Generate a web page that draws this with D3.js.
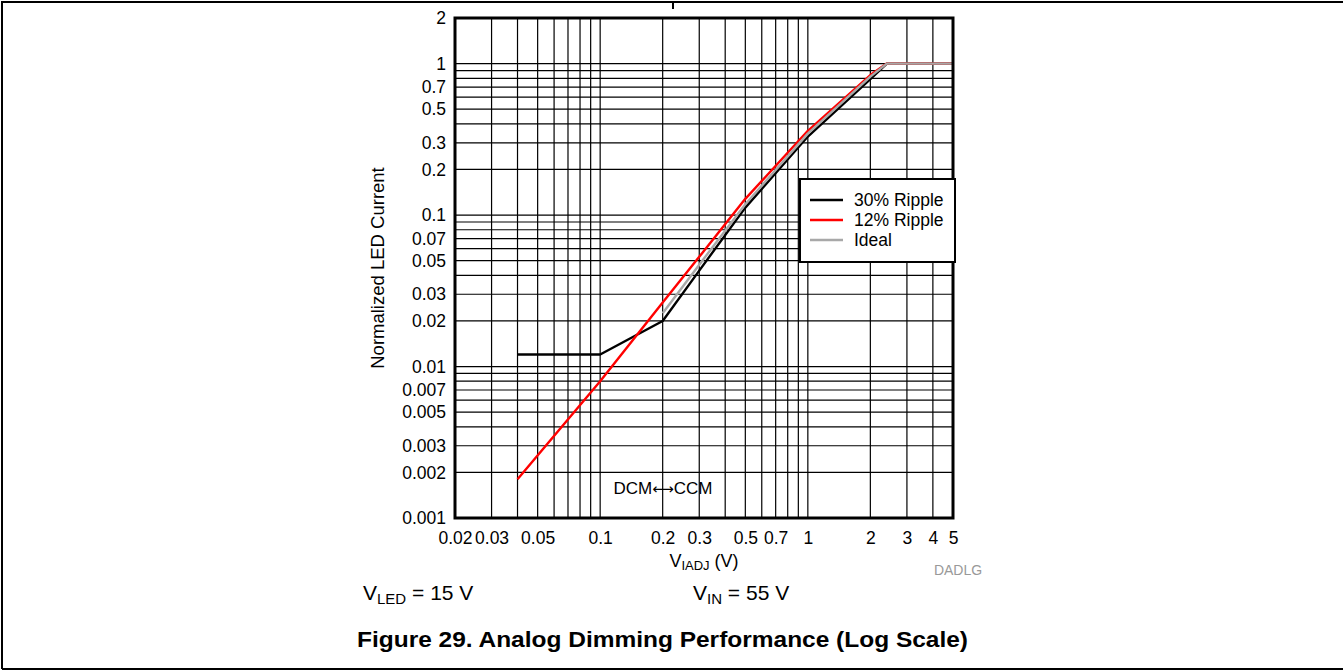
<!DOCTYPE html>
<html>
<head>
<meta charset="utf-8">
<script src="https://cdn.jsdelivr.net/npm/d3@7"></script>
<style>
  body { margin: 0; background: #fff; }
  svg { font-family: "Liberation Sans", Arial, sans-serif; }
</style>
</head>
<body>
<svg width="1343" height="670"></svg>
<script>
// data
var xTickLabels = [0.02, 0.03, 0.05, 0.1, 0.2, 0.3, 0.5, 0.7, 1, 2, 3, 4, 5];
var yTickLabels = [0.001, 0.002, 0.003, 0.005, 0.007, 0.01, 0.02, 0.03, 0.05, 0.07, 0.1, 0.2, 0.3, 0.5, 0.7, 1, 2];

var seriesNames = ["30% Ripple", "12% Ripple", "Ideal"];
var seriesColors = ["#000000", "#ff0000", "#a8a8a8"];

var ripple30 = [[0.04, 0.012], [0.1, 0.012], [0.2, 0.02], [0.3, 0.043], [0.5, 0.112], [1, 0.33], [2, 0.79], [2.4, 1], [5, 1]];
var ripple12 = [[0.04, 0.0018], [0.1, 0.008], [0.2, 0.0265], [0.3, 0.053], [0.5, 0.128], [1, 0.36], [2, 0.84], [2.4, 1], [5, 1]];
var ideal    = [[0.2, 0.0225], [0.3, 0.047], [0.5, 0.118], [1, 0.345], [2, 0.82], [2.4, 1], [5, 1]];

var svg = d3.select("svg");

// page frame
svg.append("path").attr("d", "M2,669V2H1343M673,2V9M2,669H1343")
  .attr("fill", "none").attr("stroke", "#000").attr("stroke-width", 2);

var x = d3.scaleLog().domain([0.02, 5]).range([455, 953]);
var y = d3.scaleLog().domain([0.001, 2]).range([518, 18]);

// grid
var g = svg.append("g");
g.selectAll(".vx").data(x.ticks()).enter().append("line")
  .attr("x1", function(d){ return x(d); }).attr("x2", function(d){ return x(d); })
  .attr("y1", 18).attr("y2", 518)
  .attr("stroke", "#000").attr("stroke-width", 1.2);
g.selectAll(".hy").data(y.ticks()).enter().append("line")
  .attr("x1", 455).attr("x2", 953)
  .attr("y1", function(d){ return y(d); }).attr("y2", function(d){ return y(d); })
  .attr("stroke", "#000").attr("stroke-width", 1.2);

// curves
var line = d3.line().x(function(d){ return x(d[0]); }).y(function(d){ return y(d[1]); });
[ripple30, ripple12, ideal].forEach(function(s, i){
  svg.append("path").datum(s).attr("d", line)
    .attr("fill", "none").attr("stroke", seriesColors[i]).attr("stroke-width", 2.4)
    .attr("stroke-linejoin", "round");
});

// plot frame
svg.append("rect").attr("x", 455).attr("y", 18).attr("width", 498).attr("height", 500)
  .attr("fill", "none").attr("stroke", "#000").attr("stroke-width", 3);

// axes labels
var xAxis = svg.append("g").attr("transform", "translate(0,518)")
  .call(d3.axisBottom(x).tickValues(xTickLabels).tickSize(0).tickPadding(14)
    .tickFormat(function(d){ return String(d); }));
xAxis.select(".domain").remove();
xAxis.selectAll("text").attr("font-size", 17.5).attr("fill", "#000")
  .attr("font-family", "Liberation Sans, Arial, sans-serif");

var yAxis = svg.append("g").attr("transform", "translate(446,0)")
  .call(d3.axisLeft(y).tickValues(yTickLabels).tickSize(0).tickPadding(0)
    .tickFormat(function(d){ return String(d); }));
yAxis.select(".domain").remove();
yAxis.selectAll("text").attr("font-size", 17.5).attr("fill", "#000")
  .attr("font-family", "Liberation Sans, Arial, sans-serif");

// axis titles
var xt = svg.append("text").attr("x", 704).attr("y", 567).attr("text-anchor", "middle").attr("font-size", 18);
xt.append("tspan").text("V");
xt.append("tspan").attr("font-size", 13).attr("dy", 3).text("IADJ");
xt.append("tspan").attr("dy", -3).text(" (V)");

svg.append("text").attr("transform", "translate(384,268) rotate(-90)")
  .attr("text-anchor", "middle").attr("font-size", 18.5).text("Normalized LED Current");

var dc = svg.append("text").attr("x", 663).attr("y", 494).attr("text-anchor", "middle")
  .attr("font-size", 17);
dc.append("tspan").text("DCM");
dc.append("tspan").attr("font-family", "DejaVu Sans").attr("font-size", 15).text("\u27F7");
dc.append("tspan").text("CCM");

svg.append("text").attr("x", 958).attr("y", 575).attr("text-anchor", "middle")
  .attr("font-size", 14).attr("fill", "#999").text("DADLG");

// legend
var lg = svg.append("g");
lg.append("rect").attr("x", 800).attr("y", 179).attr("width", 155).attr("height", 83)
  .attr("fill", "#fff").attr("stroke", "#000").attr("stroke-width", 2);
seriesNames.forEach(function(n, i){
  lg.append("line").attr("x1", 810).attr("x2", 843).attr("y1", 200 + i * 20).attr("y2", 200 + i * 20)
    .attr("stroke", seriesColors[i]).attr("stroke-width", 2.4);
  lg.append("text").attr("x", 854).attr("y", 206 + i * 20).attr("font-size", 17.5).text(n);
});

// conditions
var t1 = svg.append("text").attr("x", 363).attr("y", 600).attr("font-size", 21);
t1.append("tspan").text("V");
t1.append("tspan").attr("font-size", 15).attr("dy", 4).text("LED");
t1.append("tspan").attr("dy", -4).text(" = 15 V");

var t2 = svg.append("text").attr("x", 693).attr("y", 600).attr("font-size", 21);
t2.append("tspan").text("V");
t2.append("tspan").attr("font-size", 15).attr("dy", 4).text("IN");
t2.append("tspan").attr("dy", -4).text(" = 55 V");

svg.append("text").attr("x", 357).attr("y", 647)
  .attr("font-size", 22).attr("font-weight", "bold")
  .attr("textLength", 611).attr("lengthAdjust", "spacingAndGlyphs")
  .text("Figure 29. Analog Dimming Performance (Log Scale)");
</script>
</body>
</html>
